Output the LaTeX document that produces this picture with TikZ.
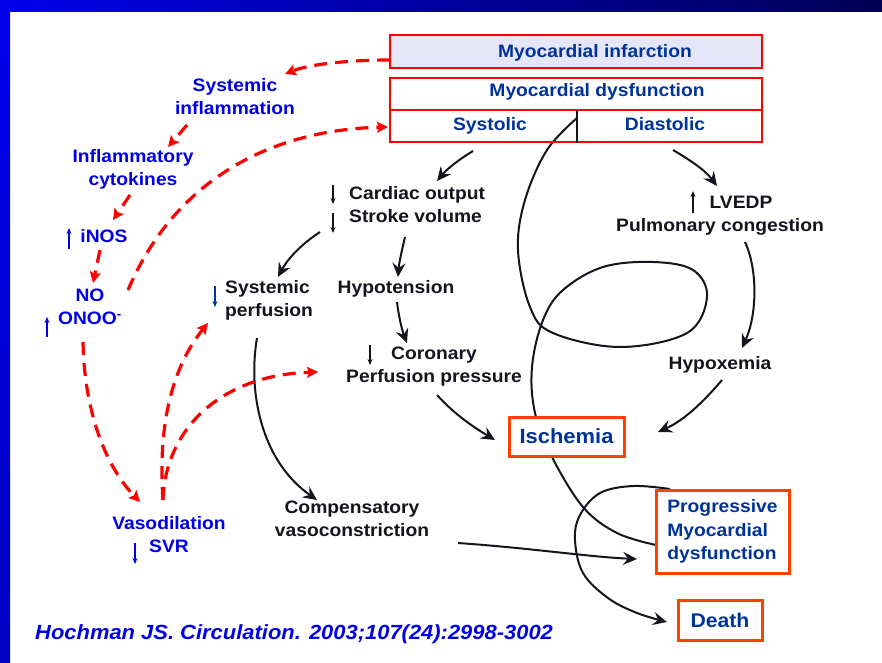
\documentclass[tikz,border=0pt]{standalone}
\usepackage{fontspec}
\setmainfont[FakeStretch=1.07]{Liberation Sans}
\usetikzlibrary{arrows.meta}
\definecolor{dblue}{RGB}{0,51,153}
\definecolor{lblue}{RGB}{0,0,230}
\definecolor{tblack}{RGB}{20,20,30}
\definecolor{bred}{RGB}{255,0,0}
\definecolor{ored}{RGB}{255,64,0}
\definecolor{lav}{RGB}{230,230,250}
\definecolor{barL}{RGB}{0,0,235}
\definecolor{barM}{RGB}{0,0,205}
\definecolor{barR}{RGB}{0,0,85}
\definecolor{barB}{RGB}{0,0,195}
\begin{document}
\begin{tikzpicture}[x=1pt,y=-1pt,
  t/.style={inner sep=0pt, align=center, font=\fontsize{18}{23}\selectfont\bfseries},
  blk/.style={t, text=tblack},
  blu/.style={t, text=lblue},
  bxt/.style={t, text=dblue},
  obox/.style={draw=ored, line width=3pt, fill=white, inner sep=0pt, text=dblue},
  rbox/.style={draw=bred, line width=2.5pt, inner sep=0pt},
  arr/.style={draw=tblack, line width=2pt, -{Stealth[length=14pt,width=13pt,inset=5pt]}},
  plain/.style={draw=tblack, line width=2pt},
  darr/.style={draw=bred, line width=3.2pt, dash pattern=on 13pt off 8pt, -{Stealth[length=11pt,width=11pt,inset=2pt]}},
  sarr/.style={line width=1.1pt, -{Stealth[length=6pt,width=5pt]}}
]
\useasboundingbox (0,0) rectangle (882,662);
% background
\fill[white] (0,0) rectangle (882,662);
\shade[left color=barL, middle color=barM, right color=barR] (0,0) rectangle (882,11);
\shade[top color=barL, bottom color=barB] (0,0) rectangle (10,662);

% loops (drawn under the boxes)
\coordinate (dv) at (577,110);
\coordinate (lp1) at (577,118);
\coordinate (lp1e) at (656,545);
\draw[plain] plot[smooth, tension=0.6] coordinates {(lp1) (547,150) (525,200) (518,250) (530,307) (553,333) (620,347) (687,333) (707,297) (693,270) (653,262) (603,267) (563,290) (543,320) (532,367) (535,413) (552,457) (583,507) (617,533) (lp1e)};
\coordinate (lp2) at (670,489);
\coordinate (lp2e) at (667,622);
\draw[arr] plot[smooth, tension=0.6] coordinates {(lp2) (633,486) (600,493) (580,515) (575,540) (583,573) (608,598) (637,613) (lp2e)};

% top boxes
\node[rbox, fill=lav, minimum width=372pt, minimum height=33pt] (mi) at (576,51.5) {};
\node[bxt, anchor=north] (mit) at (595,44.5) {Myocardial infarction};
\node[rbox, minimum width=372pt, minimum height=64pt] (dys) at (576,110) {};
\draw[bred, line width=2.5pt] (dys.west) -- (dys.east);
\draw[tblack, line width=2pt] (dv) -- (dv |- dys.south);
\node[bxt, anchor=north] (dyst) at (597,83.5) {Myocardial dysfunction};
\node[bxt, anchor=north] (syst) at (490,117.5) {Systolic};
\node[bxt, anchor=north] (diat) at (665,117.5) {Diastolic};

% lower boxes
\node[obox, minimum width=115pt, minimum height=39pt, font=\fontsize{20.5}{24}\selectfont\bfseries] (isch) at (566.5,436.5) {Ischemia};
\node[obox, minimum width=133pt, minimum height=83pt, align=left, font=\fontsize{18}{23.5}\selectfont\bfseries] (prog) at (722.5,531.5) {Progressive\\Myocardial\\dysfunction};
\node[obox, minimum width=84pt, minimum height=40pt, font=\fontsize{19.8}{24}\selectfont\bfseries] (death) at (720,620) {Death};

% left blue texts
\node[blu, anchor=north] (sinf) at (235,78.5) {Systemic\\inflammation};
\node[blu, anchor=north] (cyto) at (133,149.5) {Inflammatory\\cytokines};
\node[blu, anchor=north] (inos) at (104,229.5) {iNOS};
\node[blu, anchor=north] (no) at (90,288.5) {NO\\ONOO\textsuperscript{-}};
\node[blu, anchor=north] (vaso) at (169,516.5) {Vasodilation\\SVR};

% black texts
\node[blk, anchor=north west, align=left] (co) at (349,186.5) {Cardiac output\\Stroke volume};
\node[blk, anchor=north west, align=left] (sp) at (225,280.5) {Systemic\\perfusion};
\node[blk, anchor=north] (hypo) at (396,280.5) {Hypotension};
\node[blk, anchor=north] (cor) at (434,346.5) {Coronary\\Perfusion pressure};
\node[blk, anchor=north] (lv) at (720,196) {\hspace*{42pt}LVEDP\\Pulmonary congestion};
\node[blk, anchor=north] (hx) at (720,356.5) {Hypoxemia};
\node[blk, anchor=north] (comp) at (352,500.5) {Compensatory\\vasoconstriction};

% citation
\node[inner sep=0pt, anchor=west, text=lblue, font=\fontsize{20.5}{24}\selectfont\bfseries\itshape] (cit) at (35,634) {Hochman JS. Circulation. 2003;107(24):2998-3002};

% small arrows
\coordinate (c1a) at (333,185); \coordinate (c1b) at (333,204);
\coordinate (c2a) at (333,213); \coordinate (c2b) at (333,233);
\coordinate (spa) at (215,286); \coordinate (spb) at (215,307);
\coordinate (cra) at (370,345); \coordinate (crb) at (370,365);
\coordinate (lva) at (693,213); \coordinate (lvb) at (693,191);
\coordinate (ina) at (69,249); \coordinate (inb) at (69,228);
\coordinate (ona) at (47,337); \coordinate (onb) at (47,317);
\coordinate (sva) at (135,543); \coordinate (svb) at (135,564);
\draw[sarr, tblack] (c1a) -- (c1b);
\draw[sarr, tblack] (c2a) -- (c2b);
\draw[sarr, dblue] (spa) -- (spb);
\draw[sarr, tblack] (cra) -- (crb);
\draw[sarr, tblack] (lva) -- (lvb);
\draw[sarr, lblue] (ina) -- (inb);
\draw[sarr, lblue] (ona) -- (onb);
\draw[sarr, lblue] (sva) -- (svb);

% black connectors
\coordinate (a1s) at (473,151); \coordinate (a1e) at (437,181);
\draw[arr] (a1s) .. controls (458,160) and (446,170) .. (a1e);
\coordinate (a2s) at (673,150); \coordinate (a2e) at (717,186);
\draw[arr] (a2s) .. controls (690,160) and (705,170) .. (a2e);
\coordinate (a3s) at (320,232); \coordinate (a3e) at (278,277);
\draw[arr] (a3s) .. controls (300,245) and (287,260) .. (a3e);
\coordinate (a4s) at (405,237); \coordinate (a4e) at (398,277);
\draw[arr] (a4s) .. controls (402,250) and (399,263) .. (a4e);
\coordinate (a5s) at (397,302); \coordinate (a5e) at (407,343);
\draw[arr] (a5s) .. controls (399,318) and (402,330) .. (a5e);
\coordinate (a6s) at (437,395); \coordinate (a6e) at (495,440);
\draw[arr] (a6s) .. controls (455,415) and (475,428) .. (a6e);
\coordinate (a7s) at (745,242); \coordinate (a7e) at (742,348);
\draw[arr] (a7s) .. controls (758,270) and (757,315) .. (a7e);
\coordinate (a8s) at (722,380); \coordinate (a8e) at (658,432);
\draw[arr] (a8s) .. controls (705,400) and (685,420) .. (a8e);
\coordinate (a9s) at (257,338); \coordinate (a9e) at (317,500);
\draw[arr] (a9s) .. controls (248,390) and (260,460) .. (a9e);
\coordinate (a10s) at (458,543); \coordinate (a10e) at (637,559);
\draw[arr] (a10s) .. controls (530,548) and (590,557) .. (a10e);

% red dashed connectors
\coordinate (ra) at (390,60); \coordinate (rae) at (285,74);
\draw[darr] (ra) .. controls (350,60) and (310,64) .. (rae);
\coordinate (rb) at (187,125); \coordinate (rbe) at (168,147);
\draw[darr] (rb) -- (rbe);
\coordinate (rc) at (130,195); \coordinate (rce) at (113,220);
\draw[darr] (rc) -- (rce);
\coordinate (rd) at (100,250); \coordinate (rde) at (93,283);
\draw[darr] (rd) -- (rde);
\coordinate (re) at (128,290); \coordinate (ree) at (388,127);
\draw[darr] (re) .. controls (175,180) and (270,130) .. (ree);
\coordinate (rf) at (83,342); \coordinate (rfe) at (140,502);
\draw[darr] (rf) .. controls (84,400) and (100,460) .. (rfe);
\coordinate (rg) at (163,500); \coordinate (rge) at (208,323);
\draw[darr] (rg) .. controls (158,430) and (170,370) .. (rge);
\coordinate (rhe) at (318,372);
\draw[darr] (rg) .. controls (165,430) and (220,375) .. (rhe);
\end{tikzpicture}
\end{document}
